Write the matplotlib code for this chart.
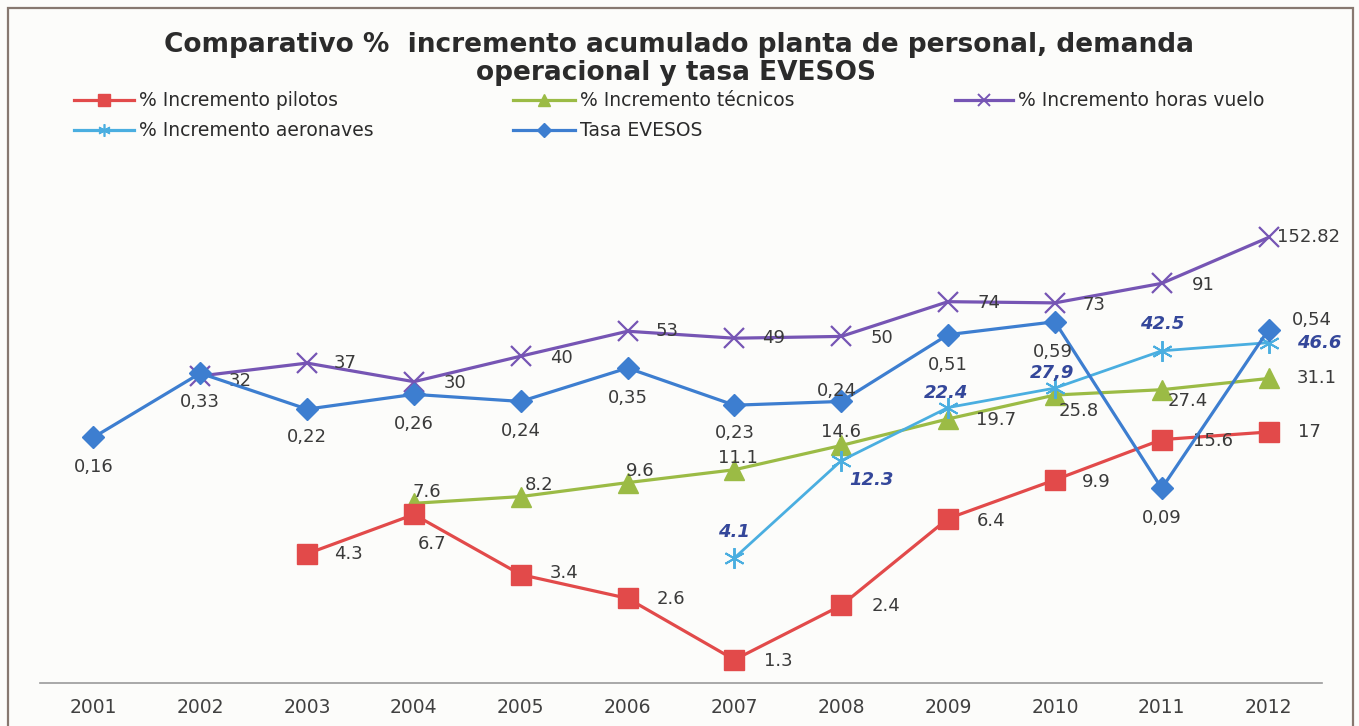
import numpy as np
import matplotlib
matplotlib.use('Agg')
import matplotlib.pyplot as plt
from matplotlib.lines import Line2D
from matplotlib.patches import Rectangle

# datos
anios = ['2001', '2002', '2003', '2004', '2005', '2006', '2007', '2008', '2009', '2010', '2011', '2012']
pilotos = [None, None, 4.3, 6.7, 3.4, 2.6, 1.3, 2.4, 6.4, 9.9, 15.6, 17]
tecnicos = [None, None, None, 7.6, 8.2, 9.6, 11.1, 14.6, 19.7, 25.8, 27.4, 31.1]
horas_vuelo = [None, 32, 37, 30, 40, 53, 49, 50, 74, 73, 91, 152.82]
aeronaves = [None, None, None, None, None, None, 4.1, 12.3, 22.4, 27.9, 42.5, 46.6]
evesos = [0.16, 0.33, 0.22, 0.26, 0.24, 0.35, 0.23, 0.24, 0.51, 0.59, 0.09, 0.54]

lbl_pilotos = ['', '', '4.3', '6.7', '3.4', '2.6', '1.3', '2.4', '6.4', '9.9', '15.6', '17']
lbl_tecnicos = ['', '', '', '7.6', '8.2', '9.6', '11.1', '14.6', '19.7', '25.8', '27.4', '31.1']
lbl_horas = ['', '32', '37', '30', '40', '53', '49', '50', '74', '73', '91', '152.82']
lbl_aeronaves = ['', '', '', '', '', '', '4.1', '12.3', '22.4', '27,9', '42.5', '46.6']
lbl_evesos = ['0,16', '0,33', '0,22', '0,26', '0,24', '0,35', '0,23', '0,24', '0,51', '0,59', '0,09', '0,54']

c_rojo = '#E24A4A'
c_verde = '#9BBB45'
c_morado = '#7655B4'
c_celeste = '#4AAEE0'
c_azul = '#3D7ED0'
c_texto = '#3a3a3a'

W, H = 1359, 726
fig = plt.figure(figsize=(W / 100, H / 100), dpi=100)
fig.patch.set_facecolor('#FCFCFA')

# area de trazado (pixeles: x 40..1322, y 71..683)
ax = fig.add_axes([40 / W, (H - 683) / H, 1282 / W, 612 / H])
ax.patch.set_alpha(0)
ax2 = ax.twinx()

x = np.arange(len(anios))

def serie(v):
    return np.array(v, dtype=float)

ax.plot(x, serie(pilotos), color=c_rojo, lw=2.3, marker='s', ms=14, mec=c_rojo, zorder=4)
ax.plot(x, serie(tecnicos), color=c_verde, lw=2.3, marker='^', ms=15, mec=c_verde, zorder=3)
ax.plot(x, serie(horas_vuelo), color=c_morado, lw=2.3, marker='x', ms=14, mew=1.6, zorder=3)
ax.plot(x, serie(aeronaves), color=c_celeste, lw=2.0, marker=(6, 2, 0), ms=15, mew=1.4, zorder=3)
ax2.plot(x, serie(evesos), color=c_azul, lw=2.3, marker='D', ms=11, mec=c_azul, zorder=5)

ax.set_yscale('log')
ax2.set_yscale('log')
ax.set_ylim(1, 1000)
ax2.set_ylim(0.01, 10)
ax.set_xlim(-0.5, 11.5)

for a in (ax, ax2):
    for s in a.spines.values():
        s.set_visible(False)
    a.set_yticks([])
    a.yaxis.set_minor_locator(plt.NullLocator())
ax.spines['bottom'].set_visible(True)
ax.spines['bottom'].set_color('#9a9a9a')
ax.spines['bottom'].set_linewidth(1.2)
ax.set_xticks(x)
ax.set_xticklabels(anios, fontsize=13.5, color='#404040')
ax.tick_params(axis='x', length=0, pad=11)

# etiquetas de datos: (dx, dy hacia abajo, alineacion)
def etiquetas(a, valores, textos, despl, **kw):
    for i, (v, t) in enumerate(zip(valores, textos)):
        if v is None or t == '':
            continue
        dx, dy, ha = despl[i]
        a.annotate(t, (i, v), xytext=(dx, -dy), textcoords='offset pixels',
                   ha=ha, va='center', zorder=6, **kw)

L, C = 'left', 'center'
off_pilotos = [None, None, (27, 0, L), (18, 30, C), (29, -2, L), (29, 1, L), (30, 1, L),
               (30, 1, L), (29, 2, L), (27, 2, L), (31, 1, L), (29, 0, L)]
off_tecnicos = [None, None, None, (13, -11, C), (18, -12, C), (13, -12, C), (4, -12, C),
                (0, -13, C), (28, 1, L), (24, 16, C), (26, 11, C), (28, 0, L)]
off_horas = [None, (28, 5, L), (27, 0, L), (30, 1, L), (29, 2, L), (28, 0, L), (28, 0, L),
             (29, 2, L), (29, 1, L), (28, 2, L), (30, 2, L), (8, 0, L)]
off_aeronaves = [None] * 6 + [(0, -26, C), (30, 19, C), (-2, -15, C), (-3, -15, C),
                              (0, -27, C), (28, 0, L)]
off_evesos = [(0, 30, C), (0, 29, C), (0, 28, C), (0, 30, C), (0, 30, C), (0, 30, C),
              (0, 28, C), (-4, -10, C), (0, 30, C), (-2, 30, C), (0, 30, C), (23, -10, L)]

etiquetas(ax, pilotos, lbl_pilotos, off_pilotos, fontsize=13, color=c_texto)
etiquetas(ax, tecnicos, lbl_tecnicos, off_tecnicos, fontsize=13, color=c_texto)
etiquetas(ax, horas_vuelo, lbl_horas, off_horas, fontsize=13, color=c_texto)
etiquetas(ax, aeronaves, lbl_aeronaves, off_aeronaves, fontsize=13, color='#34479A',
          fontweight='bold', fontstyle='italic')
etiquetas(ax2, evesos, lbl_evesos, off_evesos, fontsize=13, color=c_texto)

# titulo
fig.text(679 / W, 1 - 45 / H, 'Comparativo %  incremento acumulado planta de personal, demanda',
         ha='center', va='center', fontsize=19, fontweight='bold', color='#2b2b2b')
fig.text(676 / W, 1 - 73 / H, 'operacional y tasa EVESOS',
         ha='center', va='center', fontsize=19, fontweight='bold', color='#2b2b2b')

# leyenda manual
def clave(x0, x1, y, color, marker, ms, texto, mew=1.0):
    yy = 1 - y / H
    fig.add_artist(Line2D([x0 / W, x1 / W], [yy, yy], color=color, lw=2.3,
                          transform=fig.transFigure))
    fig.add_artist(Line2D([(x0 + x1) / 2 / W], [yy], color=color, marker=marker, ms=ms,
                          mec=color, mew=mew, transform=fig.transFigure))
    fig.text((x1 + 5) / W, yy, texto, ha='left', va='center', fontsize=13.5, color='#2b2b2b')

clave(74, 134, 100, c_rojo, 's', 9, '% Incremento pilotos')
clave(513, 575, 100, c_verde, '^', 9, '% Incremento técnicos')
clave(955, 1013, 100, c_morado, 'x', 8, '% Incremento horas vuelo', mew=1.4)
clave(74, 134, 130, c_celeste, (6, 2, 0), 9, '% Incremento aeronaves', mew=1.2)
clave(513, 575, 130, c_azul, 'D', 7, 'Tasa EVESOS')

# marco
fig.add_artist(Rectangle((8 / W, -0.05), (1353 - 8) / W, 1.05 - 8 / H, fill=False,
                         edgecolor='#877870', lw=1.6, transform=fig.transFigure))

fig.savefig('out.png', dpi=100, facecolor=fig.get_facecolor())
